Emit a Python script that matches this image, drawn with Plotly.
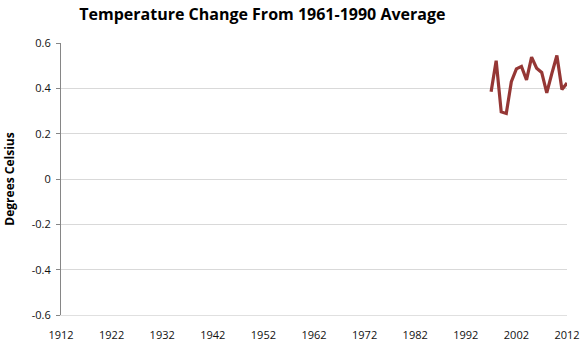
import plotly.graph_objects as go

years = list(range(1997, 2013))
anomaly = [0.385, 0.522, 0.296, 0.289, 0.429, 0.486, 0.497, 0.437, 0.538, 0.489, 0.470, 0.380, 0.465, 0.545, 0.395, 0.423]
x_ticks = list(range(1912, 2013, 10))
y_ticks = [-0.6, -0.4, -0.2, 0, 0.2, 0.4, 0.6]
y_labels = ["-0.6", "-0.4", "-0.2", "0", "0.2", "0.4", "0.6"]

fig = go.Figure()
fig.add_trace(go.Scatter(x=years, y=anomaly, mode="lines",
                         line=dict(color="#953735", width=3.2), showlegend=False))

fig.update_layout(
    width=583, height=346,
    margin=dict(l=61, r=16, t=43, b=31),
    paper_bgcolor="white", plot_bgcolor="white",
    title=dict(text="<b>Temperature Change From 1961-1990 Average</b>",
               x=0.45, xanchor="center", y=0.957, yanchor="middle",
               font=dict(family="Open Sans", size=16, color="#000")),
    font=dict(family="Open Sans", size=11, color="#000"),
    xaxis=dict(range=[1912, 2012], tickvals=x_ticks, ticktext=[str(v) for v in x_ticks],
               showgrid=False, zeroline=False, showline=True, linecolor="#e0e0e0",
               linewidth=1, ticks="", ticklabelstandoff=10, automargin=False,
               tickfont=dict(size=11, color="#111")),
    yaxis=dict(range=[-0.6, 0.6], tickvals=y_ticks, ticktext=y_labels,
               showgrid=True, gridcolor="#d9d9d9", gridwidth=1,
               zeroline=False, showline=True, linecolor="#868686", linewidth=1,
               ticks="outside", ticklen=4, tickcolor="#868686",
               ticklabelstandoff=3, automargin=False,
               tickfont=dict(size=11, color="#111"),
               title=dict(text="<b>Degrees Celsius</b>", standoff=14,
                          font=dict(family="Open Sans", size=12, color="#000"))),
)

fig.write_html("out.html")
